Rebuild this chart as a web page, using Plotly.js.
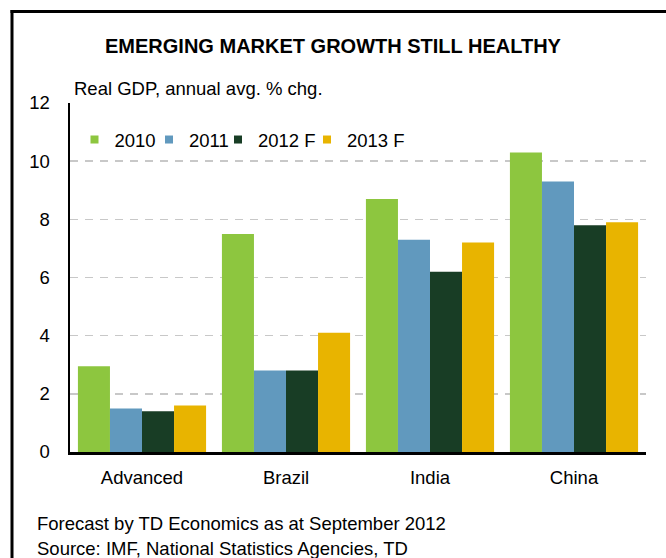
<!DOCTYPE html>
<html>
<head>
<meta charset="utf-8">
<script src="https://cdn.plot.ly/plotly-3.0.1.min.js"></script>
<style>html,body{margin:0;padding:0;background:#fff;}#chart{width:666px;height:558px;}</style>
</head>
<body>
<div id="chart"></div>
<script>
const categories = ["Advanced", "Brazil", "India", "China"];
const seriesNames = ["2010", "2011", "2012 F", "2013 F"];
const v2010 = [2.95, 7.5, 8.7, 10.3];
const v2011 = [1.5, 2.8, 7.3, 9.3];
const v2012 = [1.4, 2.8, 6.2, 7.8];
const v2013 = [1.6, 4.1, 7.2, 7.9];
const yTicks = [0, 2, 4, 6, 8, 10, 12];
const colors = ["#8DC63F", "#6199BE", "#183D25", "#E8B400"];
const values = [v2010, v2011, v2012, v2013];
const legendPx = [74.5, 149, 218, 307];

const FONT = "Liberation Sans, Arial, sans-serif";
const FS = 18.5;
const legendIds = ["legend", "legend2", "legend3", "legend4"];
const traces = [];
values.forEach((vals, i) => {
  traces.push({type: "bar", x: categories, y: vals, name: seriesNames[i],
    marker: {color: colors[i], line: {width: 0}}, showlegend: false, hoverinfo: "skip"});
});
values.forEach((vals, i) => {
  traces.push({type: "scatter", mode: "markers", x: [null], y: [null], name: seriesNames[i],
    marker: {symbol: "square", size: 8, color: colors[i]}, showlegend: true, legend: legendIds[i]});
});

const layout = {
  width: 666, height: 558,
  margin: {l: 70, r: 20, t: 103, b: 106},
  paper_bgcolor: "#fff", plot_bgcolor: "#fff",
  font: {family: FONT, size: FS, color: "#000"},
  title: {text: "<b>EMERGING MARKET GROWTH STILL HEALTHY</b>", font: {family: FONT, size: 20, color: "#000"},
    x: 0.5, xanchor: "center", xref: "container", y: 1 - 46/558, yanchor: "middle", yref: "container"},
  barmode: "group", bargap: 0.11, bargroupgap: 0,
  showlegend: true,
  xaxis: {type: "category", showgrid: false, zeroline: false, showline: true, linecolor: "#000", linewidth: 3,
    ticks: "", ticklabelstandoff: 7, tickfont: {family: FONT, size: FS}, fixedrange: true},
  yaxis: {range: [0, 12], tickvals: yTicks, ticktext: yTicks.map(String), showgrid: true, gridcolor: "#C8C8C8",
    gridwidth: 1.5, griddash: "8px,7px", zeroline: false, showline: true, linecolor: "#000", linewidth: 2.5,
    ticks: "", ticklabelstandoff: 14, tickfont: {family: FONT, size: FS}, fixedrange: true},
  annotations: [
    {text: "Real GDP, annual avg. % chg.", xref: "paper", yref: "paper", x: 0.0035, y: (452-88)/349,
      xanchor: "left", yanchor: "middle", showarrow: false, font: {family: FONT, size: FS}},
    {text: "Forecast by TD Economics as at September 2012", xref: "paper", yref: "paper", x: (35-70)/576, y: (452-523)/349,
      xanchor: "left", yanchor: "middle", showarrow: false, font: {family: FONT, size: FS}},
    {text: "Source: IMF, National Statistics Agencies, TD", xref: "paper", yref: "paper", x: (35-70)/576, y: (452-548)/349,
      xanchor: "left", yanchor: "middle", showarrow: false, font: {family: FONT, size: FS}}
  ],
  shapes: [
    {type: "line", xref: "paper", yref: "paper", x0: (12-70)/576, x1: (12-70)/576, y0: (452-10)/349, y1: -0.4, line: {color: "#000", width: 3}},
    {type: "line", xref: "paper", yref: "paper", x0: (10.5-70)/576, x1: 1.2, y0: (452-11.5)/349, y1: (452-11.5)/349, line: {color: "#000", width: 3}}
  ]
};
legendIds.forEach((id, i) => {
  layout[id] = {orientation: "h", x: (legendPx[i] - 70)/576, xanchor: "left", y: 0.894, yanchor: "middle",
    font: {family: FONT, size: FS}, bgcolor: "rgba(0,0,0,0)", itemwidth: 30};
});
Plotly.newPlot("chart", traces, layout, {displayModeBar: false, staticPlot: true});
</script>
</body>
</html>
